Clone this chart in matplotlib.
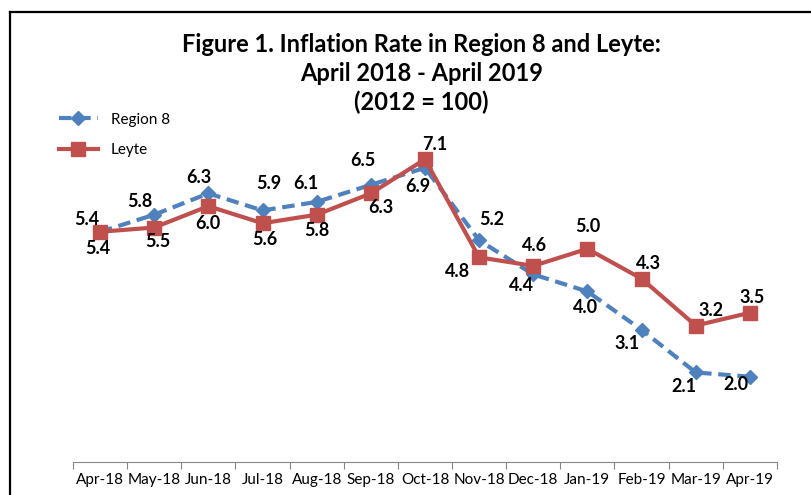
import matplotlib.pyplot as plt
from matplotlib.lines import Line2D

months = ['Apr-18', 'May-18', 'Jun-18', 'Jul-18', 'Aug-18', 'Sep-18', 'Oct-18',
          'Nov-18', 'Dec-18', 'Jan-19', 'Feb-19', 'Mar-19', 'Apr-19']
region8 = [5.4, 5.8, 6.3, 5.9, 6.1, 6.5, 6.9, 5.2, 4.4, 4.0, 3.1, 2.1, 2.0]
leyte = [5.4, 5.5, 6.0, 5.6, 5.8, 6.3, 7.1, 4.8, 4.6, 5.0, 4.3, 3.2, 3.5]

# label offsets in pixels (dx, dy up)
r8_off = [(-13, 12), (-14, 13), (-9, 16), (6, 27), (-11, 18), (-8, 24), (-7, -19),
          (13, 21), (-12, -11), (-2, -16), (-14, -14), (-12, -14), (-14, -8)]
ly_off = [(-2, -17), (4, -14), (0, -17), (2, -16), (0, -16), (10, -14), (10, 15),
          (-22, -14), (1, 20), (0, 22), (7, 15), (15, 15), (2, 15)]

blue = '#4F81BD'
red = '#C0504D'
plt.rcParams['font.family'] = ['Lato', 'DejaVu Sans']

fig = plt.figure(figsize=(8.11, 4.95), dpi=100)
ax = fig.add_axes([0.090, 0.0667, 0.868, 0.689])
x = list(range(len(months)))

ax.plot(x, region8, color=blue, lw=3, ls=(0, (3, 1.6)), marker='D', ms=7.5,
        label='Region 8')
ax.plot(x, leyte, color=red, lw=3, marker='s', ms=10, label='Leyte')

for i in x:
    ax.annotate('{:.1f}'.format(region8[i]), (i, region8[i]), xytext=r8_off[i],
                textcoords='offset pixels', ha='center', va='center',
                fontsize=13, fontweight='bold')
    ax.annotate('{:.1f}'.format(leyte[i]), (i, leyte[i]), xytext=ly_off[i],
                textcoords='offset pixels', ha='center', va='center',
                fontsize=13, fontweight='bold')

ax.set_xlim(-0.5, 12.5)
ax.set_ylim(0, 8)
ax.set_yticks([])
for s in ['top', 'right', 'left']:
    ax.spines[s].set_visible(False)
ax.spines['bottom'].set_color('#868686')
ax.set_xticks([i - 0.5 for i in range(14)], minor=False)
ax.set_xticklabels([])
ax.set_xticks(x, minor=True)
ax.set_xticklabels(months, minor=True, fontsize=11)
ax.tick_params(axis='x', which='major', length=5, color='#868686')
ax.tick_params(axis='x', which='minor', length=0, pad=8)

ax.legend(loc='upper left', bbox_to_anchor=(-0.04, 1.065), frameon=False,
          fontsize=11, handlelength=2.6, labelspacing=1.1)

fig.text(0.52, 0.91, 'Figure 1. Inflation Rate in Region 8 and Leyte:',
         ha='center', va='center', fontsize=17, fontweight='bold')
fig.text(0.52, 0.852, 'April 2018 - April 2019',
         ha='center', va='center', fontsize=17, fontweight='bold')
fig.text(0.52, 0.793, '(2012 = 100)',
         ha='center', va='center', fontsize=17, fontweight='bold')

# frame of the chart area
fig.add_artist(Line2D([0.0123, 0.0123], [0, 0.976], color='black', lw=1.6))
fig.add_artist(Line2D([0.0123, 1], [0.976, 0.976], color='black', lw=1.6))

fig.savefig('out.png', dpi=100)
